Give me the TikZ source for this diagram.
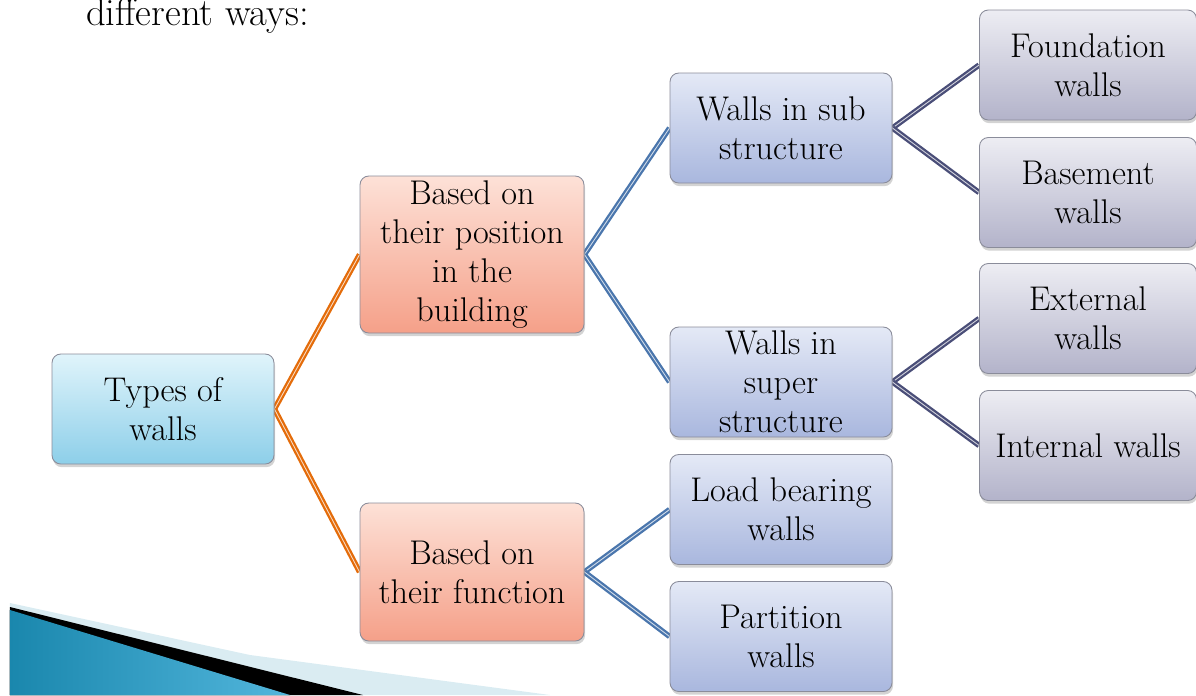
\documentclass[tikz,border=0pt]{standalone}
\usepackage{fontspec}
\usetikzlibrary{shadows, backgrounds}
\definecolor{corange}{HTML}{E46C0A}
\definecolor{cblue}{HTML}{4A76AD}
\definecolor{cslate}{HTML}{4A4E78}
\definecolor{cteal}{HTML}{1A87AD}
\definecolor{csky}{HTML}{52B6DC}
\definecolor{cframe}{HTML}{8A8C9A}
\definecolor{ccyantop}{HTML}{E0F4FB}
\definecolor{ccyanbot}{HTML}{8DCFE9}
\definecolor{csalmtop}{HTML}{FDE1D7}
\definecolor{csalmbot}{HTML}{F5A089}
\definecolor{clavtop}{HTML}{E4E9F6}
\definecolor{clavbot}{HTML}{A9B7DE}
\definecolor{cgreytop}{HTML}{EDEDF3}
\definecolor{cgreybot}{HTML}{B3B3CA}
\tikzset{
  every picture/.style={font=\fontsize{19.5}{22.2}\selectfont},
  box/.style={draw=cframe, line width=0.5pt, rounded corners=5pt, align=center, inner sep=2pt,
    minimum width=4.44cm, minimum height=2.2cm,
    drop shadow={shadow xshift=0.6pt, shadow yshift=-1.8pt, opacity=0.35}},
  typebox/.style={box, top color=ccyantop, bottom color=ccyanbot},
  groupbox/.style={box, minimum width=4.48cm, top color=csalmtop, bottom color=csalmbot},
  kindbox/.style={box, top color=clavtop, bottom color=clavbot},
  leafbox/.style={box, minimum width=4.34cm, top color=cgreytop, bottom color=cgreybot},
  link/.style={draw=#1, line width=1.3pt, double=#1!25!white, double distance=0.5pt},
}
\begin{document}
\begin{tikzpicture}
  \useasboundingbox (0,0) rectangle (23.92,-13.9);
  % slide decoration, bottom left
  \fill[cteal!16] (0.2,-12.06) -- (5.0,-13.1) -- (11.0,-13.9) -- (0.2,-13.9) -- cycle;
  \fill[black] (0.2,-12.14) -- (7.26,-13.9) -- (0.2,-13.9) -- cycle;
  \fill[left color=cteal, right color=csky] (0.2,-12.2) -- (5.8,-13.9) -- (0.2,-13.9) -- cycle;
  \node[font=\fontsize{22}{26}\selectfont, anchor=base west] (intro) at (1.6,-0.5) {different ways:};
  % tree
  \node[typebox] (tw) at (3.26,-8.18) {Types of\\walls};
  \node[groupbox, minimum height=3.14cm] (bpos) at (9.44,-5.09) {Based on\\their position\\in the\\building};
  \node[groupbox, minimum height=2.76cm] (bfun) at (9.44,-11.44) {Based on\\their function};
  \node[kindbox] (wsub) at (15.62,-2.56) {Walls in sub\\structure};
  \node[kindbox] (wsup) at (15.62,-7.64) {Walls in\\super\\structure};
  \node[kindbox] (wload) at (15.62,-10.19) {Load bearing\\walls};
  \node[kindbox] (wpart) at (15.62,-12.73) {Partition\\walls};
  \node[leafbox] (wfound) at (21.76,-1.3) {Foundation\\walls};
  \node[leafbox] (wbase) at (21.76,-3.85) {Basement\\walls};
  \node[leafbox] (wext) at (21.76,-6.37) {External\\walls};
  \node[leafbox] (wint) at (21.76,-8.91) {Internal walls};
  \begin{scope}[on background layer]
    \foreach \from/\to/\col in {tw/bpos/corange, tw/bfun/corange, bpos/wsub/cblue, bpos/wsup/cblue,
      bfun/wload/cblue, bfun/wpart/cblue, wsub/wfound/cslate, wsub/wbase/cslate,
      wsup/wext/cslate, wsup/wint/cslate}
      \draw[link=\col] (\from.east) -- (\to.west);
  \end{scope}
\end{tikzpicture}
\end{document}
